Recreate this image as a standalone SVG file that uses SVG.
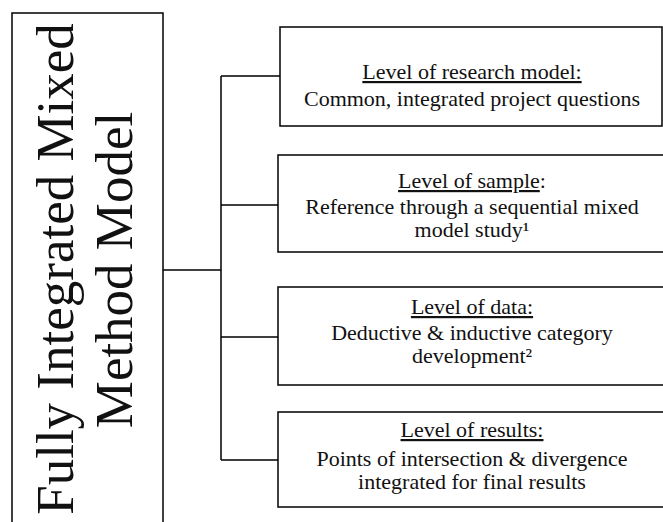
<svg xmlns="http://www.w3.org/2000/svg" width="663" height="522" viewBox="0 0 663 522">
<style>
.box{fill:#fff;stroke:#000;stroke-width:1.5}
.ln{fill:none;stroke:#000;stroke-width:1.5}
text{font-family:"Liberation Serif","Times New Roman",serif;fill:#111}
.t{font-size:22px;text-anchor:middle}
.u{text-decoration:underline}
.big{font-size:53px;text-anchor:middle}
</style>
<rect width="663" height="522" fill="#fff"/>
<g id="connectors">
<path class="ln" d="M163 270H221M221 76V460M221 76H280M221 205H278M221 337H278M221 460H278"/>
</g>
<g id="main">
<rect class="box" x="12" y="13" width="151" height="530"/>
<text class="big" transform="translate(73,269) rotate(-90)">Fully Integrated Mixed</text>
<text class="big" transform="translate(132,270) rotate(-90)">Method Model</text>
</g>
<g id="research">
<rect class="box" x="280" y="27" width="382" height="99"/>
<text class="t" x="472" y="79"><tspan class="u">Level of research model:</tspan></text>
<text class="t" x="472" y="106">Common, integrated project questions</text>
</g>
<g id="sample">
<rect class="box" x="278" y="155" width="400" height="97"/>
<text class="t" x="472" y="188"><tspan class="u">Level of sample</tspan>:</text>
<text class="t" x="472" y="214">Reference through a sequential mixed</text>
<text class="t" x="472" y="237">model study¹</text>
</g>
<g id="data">
<rect class="box" x="278" y="287" width="400" height="98"/>
<text class="t" x="472" y="314"><tspan class="u">Level of data:</tspan></text>
<text class="t" x="472" y="340">Deductive &amp; inductive category</text>
<text class="t" x="472" y="363">development²</text>
</g>
<g id="results">
<rect class="box" x="278" y="412" width="400" height="95"/>
<text class="t" x="472" y="437"><tspan class="u">Level of results:</tspan></text>
<text class="t" x="472" y="466">Points of intersection &amp; divergence</text>
<text class="t" x="472" y="489">integrated for final results</text>
</g>
</svg>
